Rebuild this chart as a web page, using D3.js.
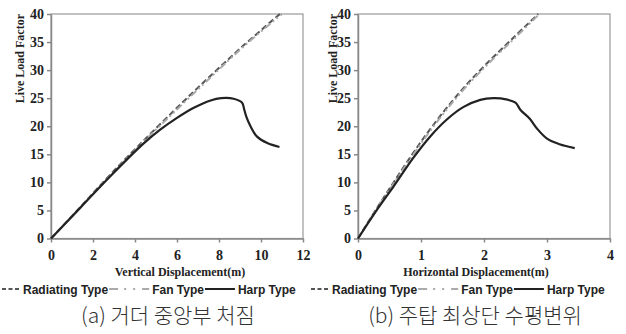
<!DOCTYPE html>
<html>
<head>
<meta charset="utf-8">
<script src="https://cdn.jsdelivr.net/npm/d3@7"></script>
<style>
  body { margin: 0; background: #fff; }
  .title { font-family: "Liberation Serif", serif; font-weight: bold; font-size: 12px; fill: #222; }
  .legend { font-family: "Liberation Sans", sans-serif; font-weight: bold; font-size: 12px; fill: #222; }
  .caption { font-family: "Noto Sans CJK KR", sans-serif; font-size: 21px; fill: #333; font-weight: 300; }
</style>
</head>
<body>
<div id="chart"></div>
<script>
// values, [displacement, live load factor]
const vertRadiating = [[0,0],[1.4,5.6],[2.8,11.3],[4.4,17.4],[6.0,23.3],[7.6,29.0],[9.2,34.5],[10.9,40]];
const vertFan = [[0,0],[1.4,5.5],[2.8,11.1],[4.4,17.2],[6.0,23.0],[7.6,28.7],[9.2,34.3],[11.0,40]];
const vertHarp = [[0,0],[1.4,5.5],[2.8,11.0],[4.4,16.9],[5.2,19.4],[6.0,21.5],[6.8,23.3],[7.6,24.6],[8.1,25.0],[8.7,24.9],[9.1,24.2],[9.2,23.0],[9.3,21.7],[9.5,20.0],[9.8,18.2],[10.3,17.0],[10.88,16.3]];

const horiRadiating = [[0,0],[0.3,5.4],[0.56,9.9],[0.88,15.3],[1.14,19.4],[1.41,23.3],[1.73,27.5],[2.10,31.8],[2.47,35.8],[2.86,40]];
const horiFan = [[0,0],[0.3,5.3],[0.56,9.7],[0.88,15.0],[1.14,19.1],[1.41,23.0],[1.73,27.2],[2.10,31.5],[2.47,35.5],[2.88,40]];
const horiHarp = [[0,0],[0.3,5.1],[0.56,9.2],[0.88,14.4],[1.14,18.1],[1.41,21.2],[1.67,23.4],[1.94,24.7],[2.15,25.0],[2.35,24.8],[2.5,24.2],[2.58,22.9],[2.73,21.3],[2.84,19.6],[3.0,17.8],[3.2,16.8],[3.44,16.1]];

const yTicks = [0, 5, 10, 15, 20, 25, 30, 35, 40];
const vertTicks = [0, 2, 4, 6, 8, 10, 12];
const horiTicks = [0, 1, 2, 3, 4];
const legendNames = ["Radiating Type", "Fan Type", "Harp Type"];
const captions = ["(a) 거더 중앙부 처짐", "(b) 주탑 최상단 수평변위"];

const styles = [
  {stroke: "#555", dash: "6,3", width: 2, key: 18, keyDash: "4,2.5"},
  {stroke: "#aaa", dash: "7,3,2,3,2,3", width: 2, key: 40, keyDash: "9,6,2,7,2,7"},
  {stroke: "#222", dash: null, width: 2.2, key: 30, keyDash: null}
];

const svg = d3.select("#chart").append("svg")
  .attr("width", 626)
  .attr("height", 334);

function styleTicks(axisG) {
  axisG.attr("font-family", null).attr("font-size", null);
  axisG.selectAll("path, line").attr("stroke", "#888").attr("stroke-width", 1.5);
  axisG.selectAll("text")
    .attr("font-family", "Liberation Serif")
    .attr("font-weight", "bold")
    .attr("font-size", 14)
    .attr("fill", "#222");
}

function panel(opt) {
  const x = d3.scaleLinear().domain([0, opt.xMax]).range([opt.left, opt.right]);
  const y = d3.scaleLinear().domain([0, 40]).range([238.5, 14]);
  const g = svg.append("g");

  // frame
  g.append("rect")
    .attr("x", opt.left).attr("y", 14)
    .attr("width", opt.right - opt.left).attr("height", 238.5 - 14)
    .attr("fill", "none").attr("stroke", "#999").attr("stroke-width", 1.2);

  g.append("g")
    .attr("transform", "translate(0,238.5)")
    .call(d3.axisBottom(x).tickValues(opt.ticks).tickFormat(d3.format("d"))
      .tickSize(4).tickSizeOuter(0).tickPadding(8))
    .call(styleTicks);

  g.append("g")
    .attr("transform", `translate(${opt.left},0)`)
    .call(d3.axisLeft(y).tickValues(yTicks).tickSize(4).tickSizeOuter(0).tickPadding(3))
    .call(styleTicks);

  const line = d3.line()
    .x(d => x(d[0]))
    .y(d => y(d[1]))
    .curve(d3.curveCatmullRom);

  opt.series.forEach((s, i) => {
    g.append("path")
      .attr("d", line(s))
      .attr("fill", "none")
      .attr("stroke", styles[i].stroke)
      .attr("stroke-width", styles[i].width)
      .attr("stroke-dasharray", styles[i].dash);
  });

  g.append("text").attr("class", "title")
    .attr("x", opt.titleX).attr("y", 276)
    .attr("text-anchor", "middle")
    .text(opt.title);

  g.append("text").attr("class", "title")
    .attr("transform", `translate(${opt.yTitleX},14) rotate(-90)`)
    .attr("text-anchor", "end")
    .text("Live Load Factor");

  // legend
  const lg = g.append("g").attr("transform", `translate(${opt.legendX},289)`);
  let cx = 0;
  legendNames.forEach((name, i) => {
    lg.append("line")
      .attr("x1", cx).attr("x2", cx + styles[i].key)
      .attr("y1", 0).attr("y2", 0)
      .attr("stroke", styles[i].stroke)
      .attr("stroke-width", 2)
      .attr("stroke-dasharray", styles[i].keyDash);
    const t = lg.append("text").attr("class", "legend")
      .attr("x", cx + styles[i].key + 3).attr("y", 4.5)
      .text(name);
    cx += styles[i].key + 4 + t.node().getComputedTextLength();
  });

  svg.append("text").attr("class", "caption")
    .attr("x", opt.captionX).attr("y", 323)
    .attr("text-anchor", "middle")
    .text(opt.caption);
}

panel({
  left: 51, right: 303, xMax: 12, ticks: vertTicks,
  series: [vertRadiating, vertFan, vertHarp],
  title: "Vertical Displacement(m)", titleX: 180, yTitleX: 24,
  legendX: 2, caption: captions[0], captionX: 168
});

panel({
  left: 358, right: 610, xMax: 4, ticks: horiTicks,
  series: [horiRadiating, horiFan, horiHarp],
  title: "Horizontal Displacement(m)", titleX: 476, yTitleX: 337,
  legendX: 311, caption: captions[1], captionX: 475
});
</script>
</body>
</html>
